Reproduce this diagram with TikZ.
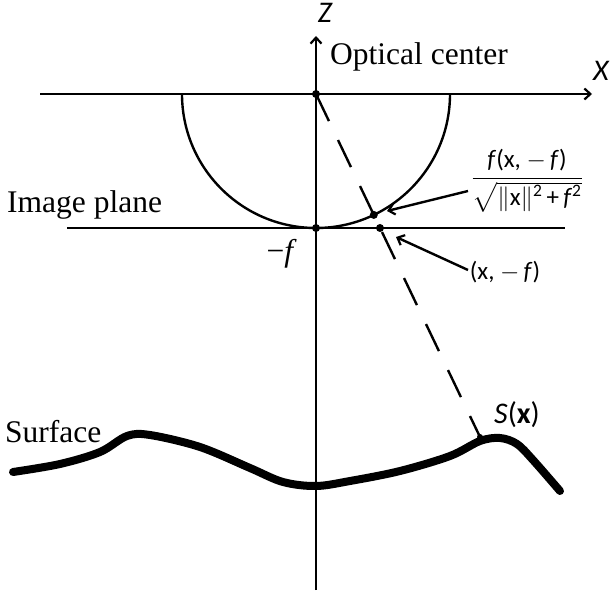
\documentclass[tikz,border=0pt]{standalone}
\usepackage{amsmath}
\usepackage{fontspec}
\setmainfont{Liberation Serif}
\newfontfamily\sansf{Carlito}
\usetikzlibrary{arrows.meta}
\tikzset{
  axis/.style={line width=2.4pt, -{Straight Barb[length=6pt,width=11pt,line width=2.2pt]}},
  thin line/.style={line width=2.4pt},
  dashline/.style={line width=2.4pt, dash pattern=on 30pt off 21pt},
  surf/.style={line width=8pt, line cap=round, line join=round},
  pt/.style={circle, fill=black, inner sep=0pt, minimum size=8pt},
  serif/.style={font=\fontsize{31.5}{36}\selectfont, inner sep=0pt},
  axlabel/.style={font=\sansf\itshape\fontsize{30}{34}\selectfont, inner sep=0pt},
  small/.style={font=\sansf\fontsize{25}{29}\selectfont, inner sep=0pt},
  callout/.style={line width=2.4pt, -{Straight Barb[length=6pt,width=11pt,line width=2.2pt]}}
}
\begin{document}
\begin{tikzpicture}[x=1pt,y=-1pt]
\useasboundingbox (0,0) rectangle (615,593);
% axes
\coordinate (zb) at (316,590);
\coordinate (zt) at (316,36);
\coordinate (xl) at (40,94);
\coordinate (xr) at (592,94);
\draw[axis] (zb) -- (zt);
\draw[axis] (xl) -- (xr);
\node[axlabel] (zlab) at (325,13) {Z};
\node[axlabel] (xlab) at (601,71) {X};
% image plane
\coordinate (il) at (67,228);
\coordinate (ir) at (565,228);
\draw[thin line] (il) -- (ir);
% semicircle
\coordinate (cl) at (182,94);
\draw[thin line] (cl) arc[start angle=180, end angle=0, radius=134];
% points
\coordinate (O) at (316,94);
\coordinate (F) at (316,228);
\coordinate (Q) at (373.8,214.9);
\coordinate (P) at (380,228);
\coordinate (S) at (480,437);
\draw[dashline] (O) -- (S);
\node[pt] (Odot) at (O) {};
\node[pt] (Fdot) at (F) {};
\node[pt] (Qdot) at (Q) {};
\node[pt] (Pdot) at (P) {};
\node[pt, minimum size=6pt] (Sdot) at (S) {};
% surface
\draw[surf] plot[smooth, tension=0.55] coordinates {
  (13,472) (60,464) (100,452) (127,436) (150,435) (200,447) (250,468)
  (283,482) (316,486) (350,481) (400,471) (450,456) (480,441) (500,438)
  (517,444) (533,460) (560,491)};
% labels
\node[serif, anchor=base west] (oc) at (330,65) {Optical center};
\node[serif, anchor=base west] (ip) at (7,213) {Image plane};
\node[serif, anchor=base west] (sf) at (5,442) {Surface};
\node[serif, anchor=base east] (mf) at (297,262) {−\textit{f}};
\node[axlabel, anchor=base west, font=\sansf\fontsize{30}{34}\selectfont] (sx) at (494,423) {\textit{S}(\textbf{x})};
\node[small] (frac) at (527,181) {$\displaystyle\frac{\mbox{\textit{f}(x, $-$\,\textit{f})}}{\sqrt{\mbox{$\|$x$\|$\textsuperscript{2}\,+\,\textit{f}\textsuperscript{2}}}}$};
\node[small] (plab) at (505,272) {(x, $-$\,\textit{f})};
% callouts
\coordinate (a1s) at (468,191);
\coordinate (a1e) at (387,211);
\coordinate (a2s) at (468,270);
\coordinate (a2e) at (396,237);
\draw[callout] (a1s) -- (a1e);
\draw[callout] (a2s) -- (a2e);
\end{tikzpicture}
\end{document}
